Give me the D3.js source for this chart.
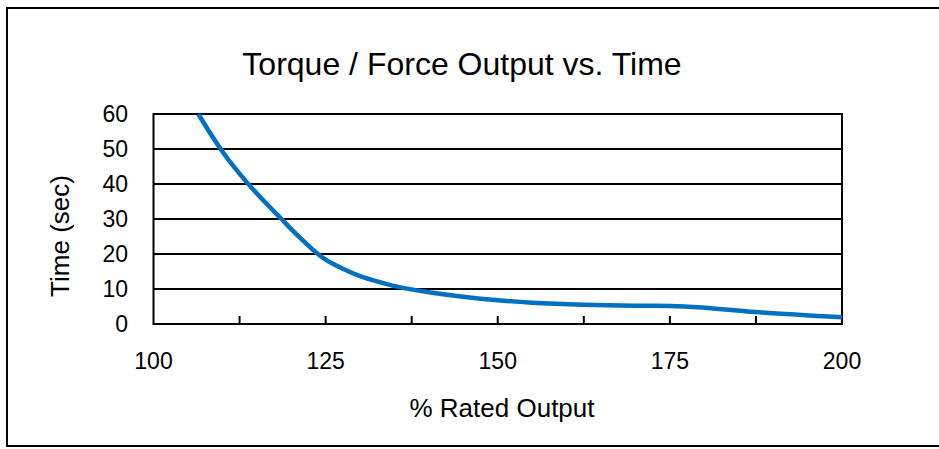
<!DOCTYPE html>
<html>
<head>
<meta charset="utf-8">
<script src="https://cdn.jsdelivr.net/npm/d3@7"></script>
<style>
  body { margin: 0; background: #fff; }
  svg { font-family: "Liberation Sans", Arial, sans-serif; }
</style>
</head>
<body>
<svg id="chart" width="939" height="449"></svg>
<script>
// % rated output vs. allowed time (sec)
var outputPct = [106.5, 110, 113.5, 116, 118.6, 120, 122, 123.7, 125, 127.5, 130, 133, 136, 140, 145, 150, 155, 162.5, 170, 175, 179, 187.5, 200]
var timeSec   = [60, 49.3, 40.6, 35.2, 30, 27.1, 23.3, 20.3, 18.4, 15.8, 13.7, 11.9, 10.4, 9.1, 7.8, 6.8, 6.1, 5.5, 5.2, 5.15, 4.8, 3.4, 1.9]
var xTickLabels = [100, 125, 150, 175, 200]
var xMinorTicks = [112.5, 125, 137.5, 150, 162.5, 175, 187.5]
var yTickLabels = [0, 10, 20, 30, 40, 50, 60]

var svg = d3.select("#chart")

// outer frame
svg.append("rect")
  .attr("x", 7).attr("y", 8).attr("width", 940).attr("height", 438)
  .attr("fill", "none").attr("stroke", "#000").attr("stroke-width", 2)

var plotL = 153.5, plotR = 842, plotT = 114, plotB = 324

var x = d3.scaleLinear().domain([100, 200]).range([plotL, plotR])
var y = d3.scaleLinear().domain([0, 60]).range([plotB, plotT])

// gridlines
svg.append("g").selectAll("line")
  .data(yTickLabels.filter(function(d) { return d > 0 && d < 60 }))
  .enter().append("line")
  .attr("x1", plotL).attr("x2", plotR)
  .attr("y1", function(d) { return y(d) }).attr("y2", function(d) { return y(d) })
  .attr("stroke", "#000").attr("stroke-width", 2)

// minor ticks pointing up from the bottom
svg.append("g").selectAll("line")
  .data(xMinorTicks)
  .enter().append("line")
  .attr("x1", function(d) { return x(d) }).attr("x2", function(d) { return x(d) })
  .attr("y1", plotB).attr("y2", plotB - 8)
  .attr("stroke", "#000").attr("stroke-width", 2)

// plot frame
svg.append("rect")
  .attr("x", plotL).attr("y", plotT).attr("width", plotR - plotL).attr("height", plotB - plotT)
  .attr("fill", "none").attr("stroke", "#000").attr("stroke-width", 2)

// tick labels
svg.append("g").selectAll("text")
  .data(yTickLabels)
  .enter().append("text")
  .attr("x", 128).attr("y", function(d) { return y(d) })
  .attr("dy", "0.36em")
  .attr("text-anchor", "end")
  .attr("font-size", 23)
  .text(function(d) { return d })

svg.append("g").selectAll("text")
  .data(xTickLabels)
  .enter().append("text")
  .attr("x", function(d) { return x(d) }).attr("y", 369)
  .attr("text-anchor", "middle")
  .attr("font-size", 23)
  .text(function(d) { return d })

// curve
var line = d3.line()
  .x(function(d, i) { return x(outputPct[i]) })
  .y(function(d) { return y(d) })
  .curve(d3.curveCatmullRom.alpha(0.5))

svg.append("path")
  .datum(timeSec)
  .attr("d", line)
  .attr("fill", "none")
  .attr("stroke", "#0070C0")
  .attr("stroke-width", 4.5)

// titles
svg.append("text")
  .attr("x", 462).attr("y", 75)
  .attr("text-anchor", "middle")
  .attr("font-size", 32)
  .text("Torque / Force Output vs. Time")

svg.append("text")
  .attr("x", 502).attr("y", 417)
  .attr("text-anchor", "middle")
  .attr("font-size", 26)
  .text("% Rated Output")

svg.append("text")
  .attr("transform", "translate(69,236) rotate(-90)")
  .attr("text-anchor", "middle")
  .attr("font-size", 26)
  .text("Time (sec)")
</script>
</body>
</html>
